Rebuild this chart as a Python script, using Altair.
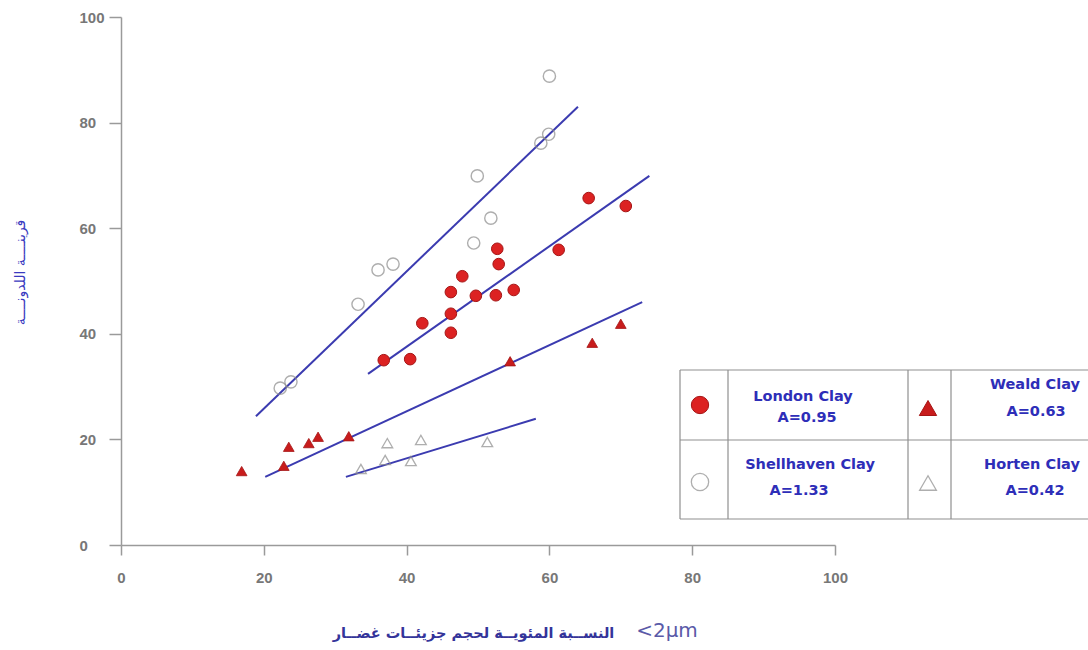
import altair as alt
import pandas as pd

# Shellhaven Clay (open circles)
shell_x = [22.3, 23.8, 33.2, 36.0, 38.1, 49.4, 49.9, 51.8, 58.8, 59.9, 60.0]
shell_y = [29.7, 30.9, 45.6, 52.1, 53.2, 57.2, 69.9, 61.9, 76.1, 77.8, 88.8]

# London Clay (filled red circles)
london_x = [36.8, 40.5, 42.2, 46.2, 46.2, 46.2, 47.8, 49.7, 52.5, 52.7, 52.9, 55.0, 61.3, 65.5, 70.7]
london_y = [35.0, 35.2, 42.0, 40.2, 43.8, 47.9, 50.9, 47.2, 47.3, 56.1, 53.2, 48.3, 55.9, 65.7, 64.2]

# Weald Clay (filled red triangles)
weald_x = [16.9, 22.8, 23.5, 26.3, 27.6, 31.9, 54.5, 66.0, 70.0]
weald_y = [14.0, 15.0, 18.6, 19.3, 20.5, 20.6, 34.8, 38.3, 41.9]

# Horten Clay (open triangles)
horten_x = [33.6, 37.0, 37.3, 40.6, 42.0, 51.3]
horten_y = [14.4, 16.1, 19.3, 15.9, 19.9, 19.5]

# Regression lines: start / end points for each clay
line_names = ["Shellhaven", "London", "Weald", "Horten"]
line_x0 = [18.9, 34.6, 20.2, 31.5]
line_y0 = [24.4, 32.4, 12.9, 12.9]
line_x1 = [64.0, 74.0, 73.0, 58.1]
line_y1 = [83.0, 69.9, 46.0, 23.9]

# Legend entries
legend_names = ["London Clay", "Weald Clay", "Shellhaven Clay", "Horten Clay"]
legend_activity = ["A=0.95", "A=0.63", "A=1.33", "A=0.42"]

tick_values = [0, 20, 40, 60, 80, 100]

y_title = "قرينــــة اللدونــــة"
x_title = "النســبة المئويــة لحجم جزيئــات غضــار"
x_unit = "<2μm"

W, H = 714, 528
BLUE_LINE = "#3b3bb0"
TEXT_BLUE = "#2e2eb8"
RED = "#dc2222"
DARK_RED = "#a51515"
GRAY = "#8c8c8c"

xs = alt.Scale(domain=[0, 100], nice=False, zero=False)
ys = alt.Scale(domain=[0, 100], nice=False, zero=False)

x_axis = alt.Axis(
    values=tick_values, grid=False, tickSize=10, labelPadding=15, labelFlush=False,
    domainColor="#9a9a9a", tickColor="#9a9a9a", domainWidth=1.5, tickWidth=1.5,
    labelColor="#777777", labelFont="Arial", labelFontWeight="bold", labelFontSize=15,
    title=x_title, titleFont="DejaVu Sans", titleFontSize=14.5, titleFontWeight="bold",
    titleColor="#34349a", titleX=352, titleY=88, titleBaseline="middle", titleAlign="center",
)
y_axis = alt.Axis(
    values=tick_values, grid=False, tickSize=12, labelPadding=30, labelAlign="left",
    labelFlush=False,
    domainColor="#9a9a9a", tickColor="#9a9a9a", domainWidth=1.5, tickWidth=1.5,
    labelColor="#777777", labelFont="Arial", labelFontWeight="bold", labelFontSize=15,
    title=y_title, titleFont="DejaVu Sans", titleFontSize=14, titleFontWeight="normal",
    titleColor="#3a3ac0", titleX=-101, titleY=255, titleAngle=270,
    titleBaseline="middle", titleAlign="center",
)


def pts(xv, yv):
    return pd.DataFrame({"x": xv, "y": yv})


lines_df = pd.DataFrame({"name": line_names, "x0": line_x0, "y0": line_y0,
                         "x1": line_x1, "y1": line_y1})

fit_lines = alt.Chart(lines_df).mark_rule(color=BLUE_LINE, strokeWidth=2).encode(
    x=alt.X("x0:Q", scale=xs, axis=x_axis),
    y=alt.Y("y0:Q", scale=ys, axis=y_axis),
    x2="x1:Q", y2="y1:Q",
)

shell = alt.Chart(pts(shell_x, shell_y)).mark_point(
    shape="circle", filled=False, size=150, stroke=GRAY, strokeWidth=1.4
).encode(x=alt.X("x:Q", scale=xs), y=alt.Y("y:Q", scale=ys))

london = alt.Chart(pts(london_x, london_y)).mark_point(
    shape="circle", filled=True, size=135, fill=RED, stroke=DARK_RED, strokeWidth=1, opacity=1
).encode(x=alt.X("x:Q", scale=xs), y=alt.Y("y:Q", scale=ys))

weald = alt.Chart(pts(weald_x, weald_y)).mark_point(
    shape="triangle-up", filled=True, size=115, fill="#c81c1c", stroke=DARK_RED, strokeWidth=0.8, opacity=1
).encode(x=alt.X("x:Q", scale=xs), y=alt.Y("y:Q", scale=ys))

horten = alt.Chart(pts(horten_x, horten_y)).mark_point(
    shape="triangle-up", filled=False, size=115, stroke=GRAY, strokeWidth=1.3
).encode(x=alt.X("x:Q", scale=xs), y=alt.Y("y:Q", scale=ys))

one = pd.DataFrame({"k": [0]})

# Legend table, laid out in pixels relative to the plot area
L0, L1, L2, L3, LR = 559, 607, 787, 830, 975
T0, TM, TB = 353, 423, 502
legend_layers = []
grid_color = "#8f8f8f"
for (xa, xb, ya, yb) in [
    (L0, LR, T0, T0), (L0, LR, TM, TM), (L0, LR, TB, TB),
    (L0, L0, T0, TB), (L1, L1, T0, TB), (L2, L2, T0, TB), (L3, L3, T0, TB),
]:
    legend_layers.append(
        alt.Chart(one).mark_rule(color=grid_color, strokeWidth=1.2).encode(
            x=alt.value(xa), x2=alt.value(xb), y=alt.value(ya), y2=alt.value(yb)
        )
    )

sym_specs = [
    (579, 388, "circle", True, 300, RED),
    (807, 391, "triangle-up", True, 300, "#c81c1c"),
    (579, 465, "circle", False, 300, GRAY),
    (807, 466, "triangle-up", False, 280, GRAY),
]
for (sx, sy, shp, fl, sz, col) in sym_specs:
    if fl:
        mk = alt.Chart(one).mark_point(shape=shp, filled=True, size=sz, fill=col,
                                       stroke=DARK_RED, strokeWidth=1, opacity=1)
    else:
        mk = alt.Chart(one).mark_point(shape=shp, filled=False, size=sz, stroke=col,
                                       strokeWidth=1.3)
    legend_layers.append(mk.encode(x=alt.value(sx), y=alt.value(sy)))

text_pos = [(682, 380, 686, 401), (914, 368, 915, 395), (689, 448, 678, 474), (911, 448, 914, 474)]
for name, act, (nx, ny, ax_, ay) in zip(legend_names, legend_activity, text_pos):
    for txt, tx, ty in [(name, nx, ny), (act, ax_, ay)]:
        legend_layers.append(
            alt.Chart(one).mark_text(font="DejaVu Sans", fontWeight="bold", fontSize=14.5,
                                     color=TEXT_BLUE, align="center", baseline="middle").encode(
                x=alt.value(tx), y=alt.value(ty), text=alt.value(txt)
            )
        )

unit_label = alt.Chart(one).mark_text(
    font="DejaVu Sans", fontSize=20, color="#5a5aa8", align="center", baseline="middle"
).encode(x=alt.value(546), y=alt.value(614), text=alt.value(x_unit))

chart = alt.layer(
    fit_lines, shell, london, weald, horten, unit_label, *legend_layers
).properties(
    width=W, height=H,
    padding={"left": 121, "top": 17, "right": 253, "bottom": 105},
    autosize=alt.AutoSizeParams(type="none"),
    background="white",
).configure_view(stroke=None)

chart.save("out.html", embed_options={"renderer": "svg", "actions": False})
